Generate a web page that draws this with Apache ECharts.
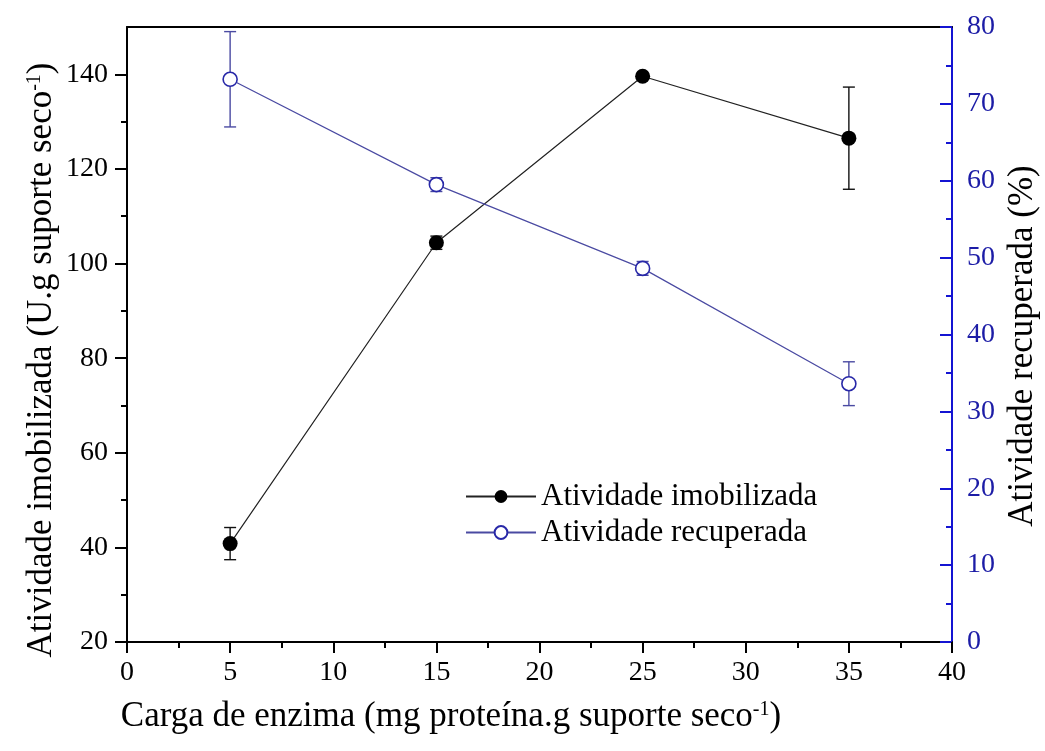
<!DOCTYPE html>
<html>
<head>
<meta charset="utf-8">
<script src="https://cdn.jsdelivr.net/npm/echarts@6/dist/echarts.min.js"></script>
<style>
html,body{margin:0;padding:0;background:#fff;}
#chart{width:1045px;height:751px;}
</style>
</head>
<body>
<div id="chart"></div>
<script>
// ---- data ----
const xValues = [5, 15, 25, 35];
const imobMean = [40.8, 104.4, 139.6, 126.5];
const imobErr = [3.4, 1.4, 0.5, 10.8];
const recMean = [73.2, 59.5, 48.6, 33.6];
const recErr = [6.2, 0.9, 0.9, 2.85];
const leftTicks = [20, 40, 60, 80, 100, 120, 140];
const leftMinorTicks = [30, 50, 70, 90, 110, 130];
const seriesNames = ['Atividade imobilizada', 'Atividade recuperada'];
const xTitle = 'Carga de enzima (mg proteína.g suporte seco{sup|-1})';
const yLeftTitle = 'Atividade imobilizada (U.g suporte seco{sup|-1})';
const yRightTitle = 'Atividade recuperada (%)';

const FONT = 'Liberation Serif';
const BLACK = '#000000';
const BLUE_AXIS = '#1414d2';
const BLUE_LABEL = '#1c1ca6';
const BLUE_LINE = '#4a4aa2';
const BLUE_MARK = '#2828a8';

function errData(mean, err) {
  return xValues.map((x, i) => [x, mean[i] - err[i], mean[i] + err[i]]);
}
function errRender(color) {
  return function (params, api) {
    const x = api.value(0), lo = api.value(1), hi = api.value(2);
    const p1 = api.coord([x, lo]);
    const p2 = api.coord([x, hi]);
    const w = 6;
    const st = { stroke: color, lineWidth: 1.4 };
    return {
      type: 'group',
      children: [
        { type: 'line', shape: { x1: p1[0], y1: p1[1], x2: p2[0], y2: p2[1] }, style: st },
        { type: 'line', shape: { x1: p1[0] - w, y1: p1[1], x2: p1[0] + w, y2: p1[1] }, style: st },
        { type: 'line', shape: { x1: p2[0] - w, y1: p2[1], x2: p2[0] + w, y2: p2[1] }, style: st }
      ]
    };
  };
}

const supRich = { sup: { fontFamily: FONT, fontSize: 20, verticalAlign: 'top', fill: '#000' } };

const chart = echarts.init(document.getElementById('chart'), null, { renderer: 'canvas' });
const option = {
  animation: false,
  backgroundColor: '#ffffff',
  grid: { left: 127, right: 93, top: 27, bottom: 109, containLabel: false },
  legend: {
    orient: 'vertical',
    left: 460,
    top: 476,
    itemWidth: 70,
    itemHeight: 16,
    itemGap: 5,
    data: seriesNames,
    textStyle: { fontFamily: FONT, fontSize: 31, color: '#000' }
  },
  xAxis: [
    {
      type: 'value', position: 'bottom', min: 0, max: 40, interval: 5,
      axisLine: { show: true, onZero: false, lineStyle: { color: BLACK, width: 2 } },
      axisTick: { show: true, inside: false, length: 11, lineStyle: { color: BLACK, width: 2 } },
      minorTick: { show: true, splitNumber: 2, length: 6, lineStyle: { color: BLACK, width: 2 } },
      axisLabel: { fontFamily: FONT, fontSize: 28, color: '#000', margin: 17 },
      splitLine: { show: false }
    },
    {
      type: 'value', position: 'top', min: 0, max: 40,
      axisLine: { show: true, onZero: false, lineStyle: { color: BLACK, width: 2 } },
      axisTick: { show: false }, axisLabel: { show: false }, splitLine: { show: false }
    }
  ],
  yAxis: [
    {
      type: 'value', position: 'left', min: 20, max: 150,
      axisLine: { show: true, onZero: false, lineStyle: { color: BLACK, width: 2 } },
      axisTick: { show: true, inside: false, length: 12, customValues: leftTicks, lineStyle: { color: BLACK, width: 2 } },
      axisLabel: { customValues: leftTicks, fontFamily: FONT, fontSize: 28, color: '#000', margin: 19 },
      splitLine: { show: false }
    },
    {
      type: 'value', position: 'right', min: 0, max: 80, interval: 10,
      axisLine: { show: true, onZero: false, lineStyle: { color: BLUE_AXIS, width: 2 } },
      axisTick: { show: true, inside: true, length: 12, lineStyle: { color: BLUE_AXIS, width: 2 } },
      minorTick: { show: true, splitNumber: 2, length: 6, lineStyle: { color: BLUE_AXIS, width: 2 } },
      axisLabel: { fontFamily: FONT, fontSize: 28, color: BLUE_LABEL, margin: 15 },
      splitLine: { show: false }
    },
    {
      type: 'value', position: 'left', min: 20, max: 150,
      axisLine: { show: false },
      axisTick: { show: true, inside: false, length: 6, customValues: leftMinorTicks, lineStyle: { color: BLACK, width: 2 } },
      axisLabel: { show: false },
      splitLine: { show: false }
    }
  ],
  graphic: [
    {
      type: 'text', x: 451, y: 717, z: 10,
      style: { text: xTitle, fontFamily: FONT, fontSize: 35, fill: '#000', align: 'center', verticalAlign: 'middle', rich: supRich }
    },
    {
      type: 'text', x: 42, y: 360, rotation: Math.PI / 2, z: 10,
      style: { text: yLeftTitle, fontFamily: FONT, fontSize: 35, fill: '#000', align: 'center', verticalAlign: 'middle', rich: supRich }
    },
    {
      type: 'text', x: 1023, y: 346, rotation: Math.PI / 2, z: 10,
      style: { text: yRightTitle, fontFamily: FONT, fontSize: 35, fill: '#000', align: 'center', verticalAlign: 'middle' }
    }
  ],
  series: [
    {
      type: 'custom', name: 'errImob', xAxisIndex: 0, yAxisIndex: 0, z: 2, clip: false,
      data: errData(imobMean, imobErr), encode: { x: 0, y: [1, 2] },
      renderItem: errRender('#111111')
    },
    {
      type: 'custom', name: 'errRec', xAxisIndex: 0, yAxisIndex: 1, z: 2, clip: false,
      data: errData(recMean, recErr), encode: { x: 0, y: [1, 2] },
      renderItem: errRender(BLUE_LINE)
    },
    {
      type: 'line', name: seriesNames[0], xAxisIndex: 0, yAxisIndex: 0, z: 3,
      data: xValues.map((x, i) => [x, imobMean[i]]),
      symbol: 'circle', symbolSize: 15, showAllSymbol: true,
      itemStyle: { color: '#000000' },
      lineStyle: { color: '#222222', width: 1.2 }
    },
    {
      type: 'line', name: seriesNames[1], xAxisIndex: 0, yAxisIndex: 1, z: 3,
      data: xValues.map((x, i) => [x, recMean[i]]),
      symbol: 'circle', symbolSize: 14, showAllSymbol: true,
      itemStyle: { color: '#ffffff', borderColor: BLUE_MARK, borderWidth: 1.6 },
      lineStyle: { color: BLUE_LINE, width: 1.2 }
    }
  ]
};
chart.setOption(option);
</script>
</body>
</html>
